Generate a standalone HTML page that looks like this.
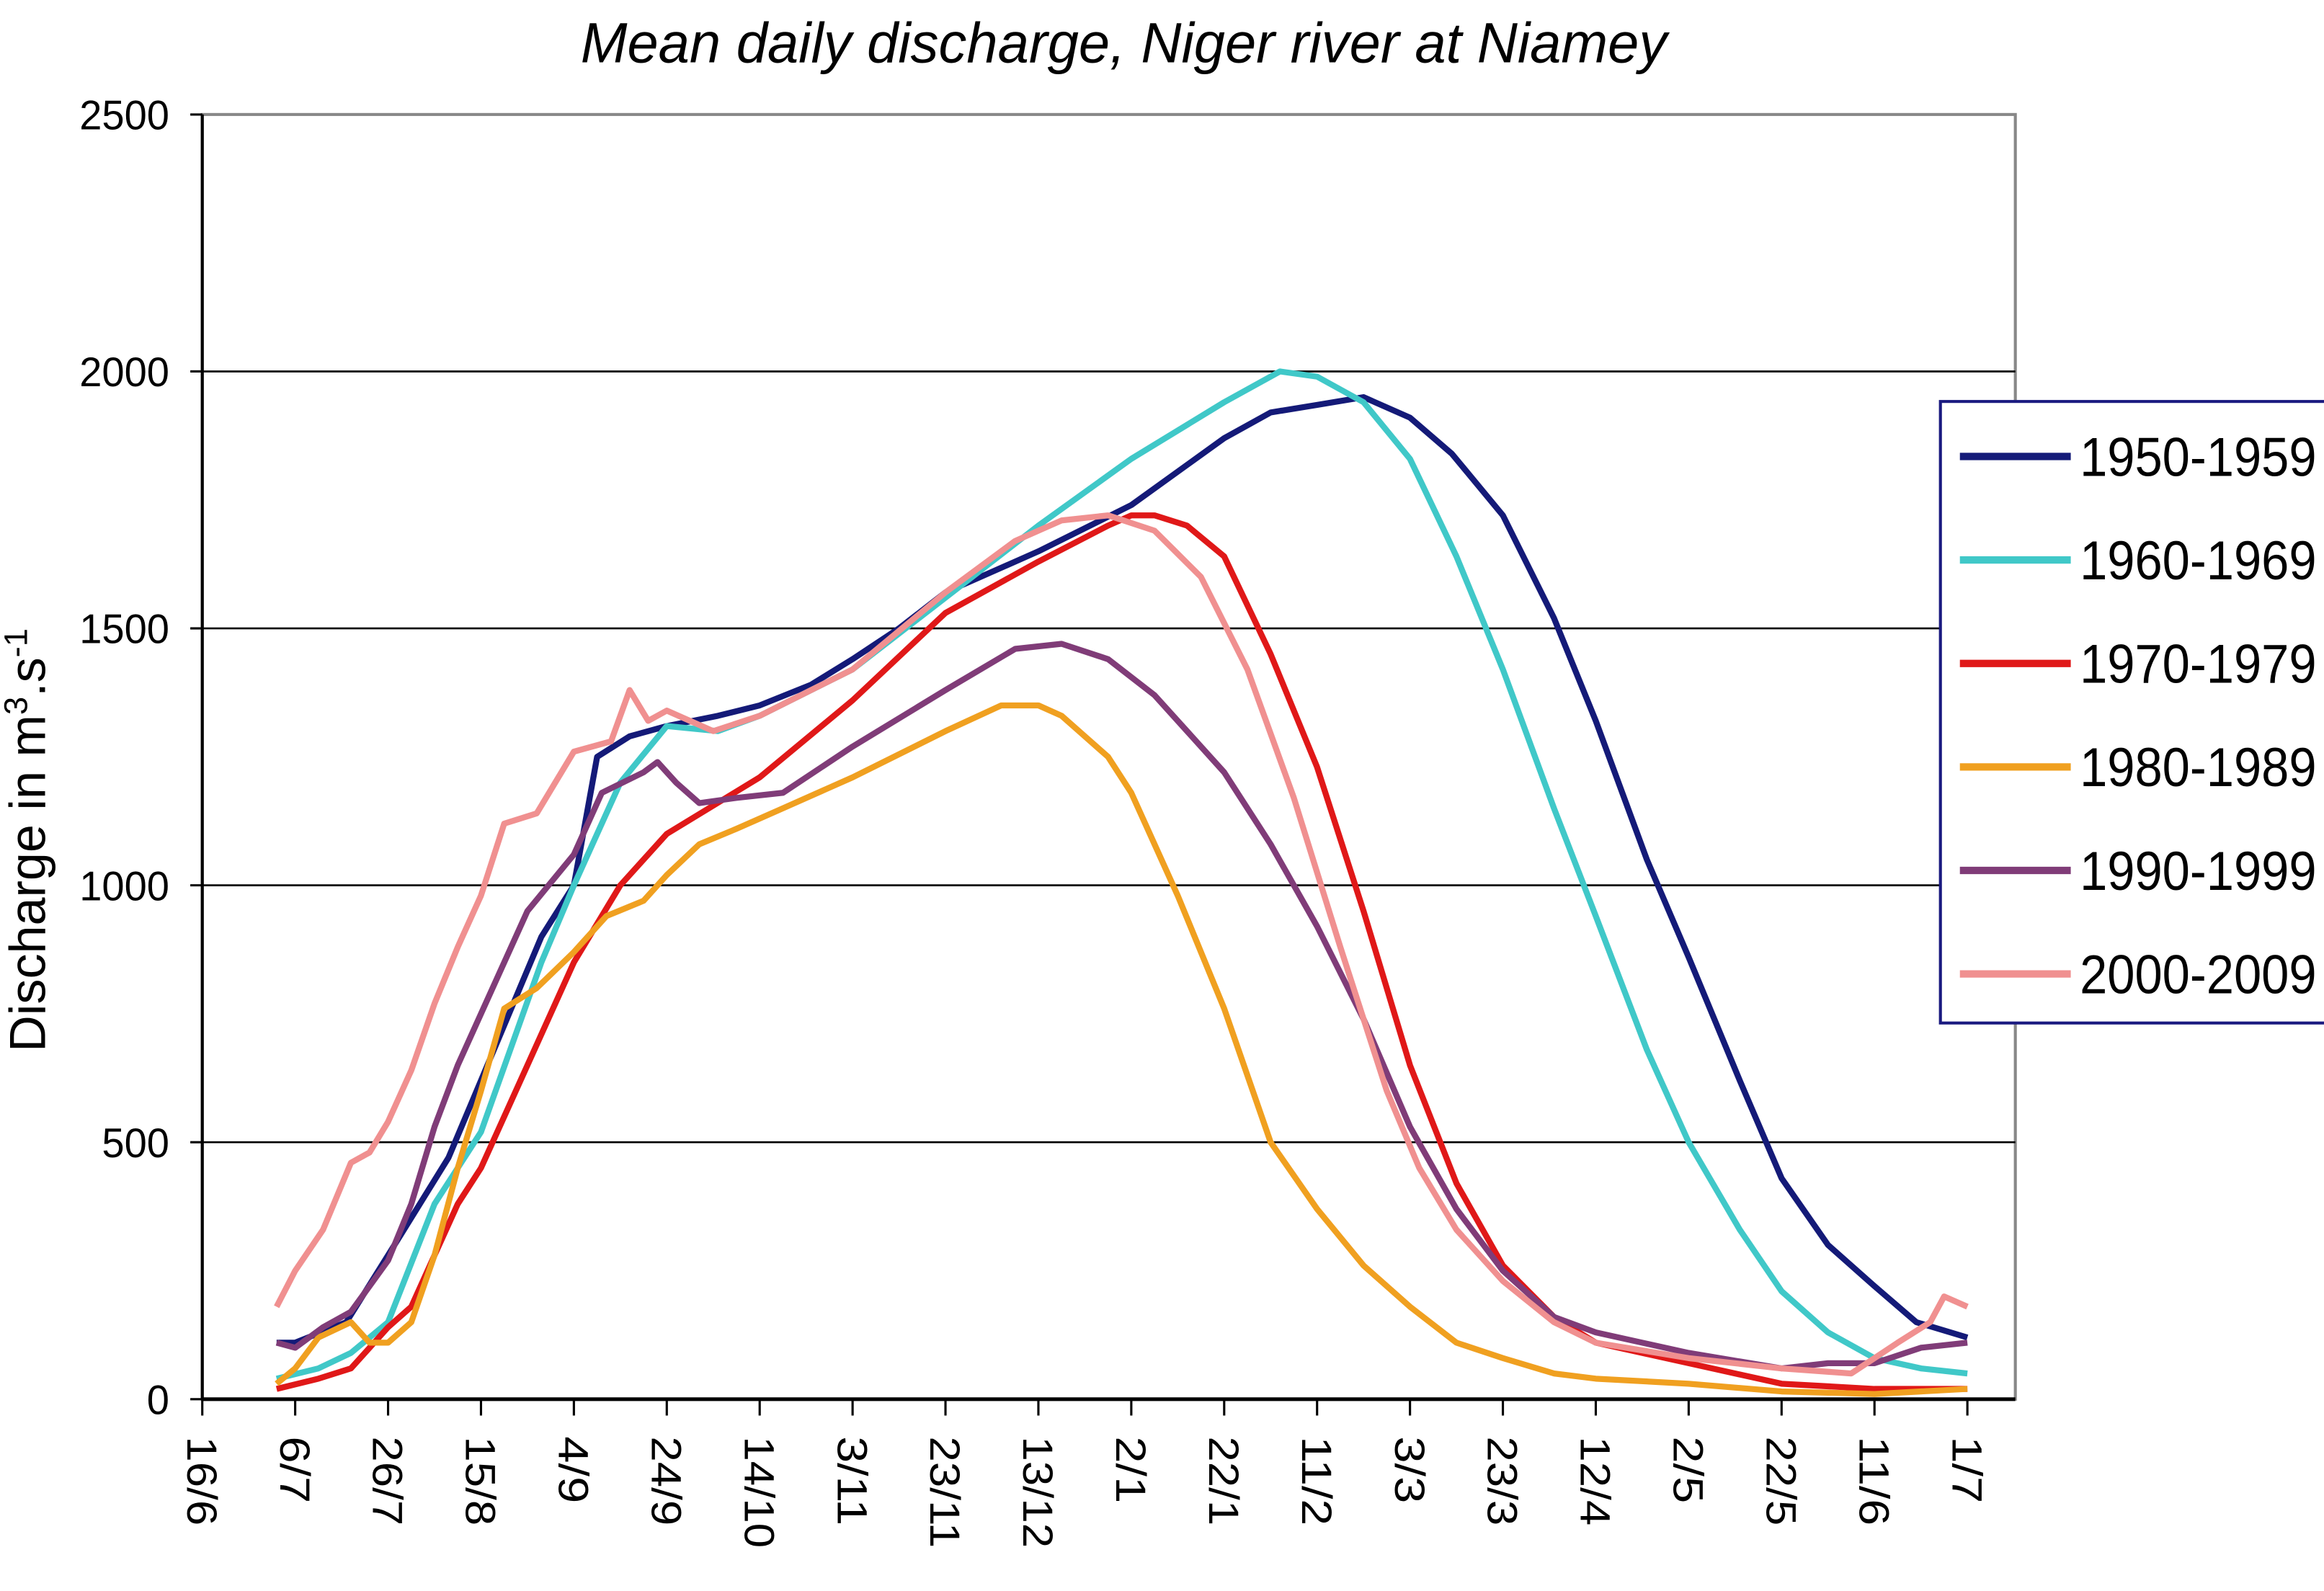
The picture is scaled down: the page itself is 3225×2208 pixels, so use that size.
<!DOCTYPE html>
<html><head><meta charset="utf-8"><style>html,body{margin:0;padding:0;background:#fff}svg{display:block}</style></head>
<body>
<svg id="chart" width="3225" height="2208" viewBox="0 0 1551 1070" preserveAspectRatio="none" xmlns="http://www.w3.org/2000/svg" font-family="'Liberation Sans', sans-serif">
<rect width="1551" height="1070" fill="#fff"/>
<text x="750" y="42" font-size="38" font-style="italic" text-anchor="middle" textLength="725" lengthAdjust="spacingAndGlyphs">Mean daily discharge, Niger river at Niamey</text>
<rect x="135" y="77" width="1210" height="864" fill="none" stroke="#888" stroke-width="2"/>
<g id="grid"></g>
<g id="yticks"></g>
<g id="xticks"></g>
<g id="series"></g>
<text transform="translate(30,565) rotate(-90)" font-size="34" text-anchor="middle">Discharge in m<tspan font-size="22" dy="-12">3</tspan><tspan dy="12">.s</tspan><tspan font-size="22" dy="-12">-1</tspan></text>
<g>
<rect x="1295" y="270" width="270" height="418" fill="#fff" stroke="#1a1a80" stroke-width="2"/>
<g id="legend-items"></g>
</g>
</svg>
<script>
const categories = ["16/6","6/7","26/7","15/8","4/9","24/9","14/10","3/11","23/11","13/12","2/1","22/1","11/2","3/3","23/3","12/4","2/5","22/5","11/6","1/7"];
const tickDays = [0,20,40,60,80,100,120,140,160,180,200,220,240,260,280,300,320,340,360,380];
const yTicks = [0,500,1000,1500,2000,2500];
const seriesNames = ["1950-1959","1960-1969","1970-1979","1980-1989","1990-1999","2000-2009"];
const seriesColors = ["#141a78","#40c8c8","#e01818","#f0a020","#803c78","#f09090"];
const s1950 = [[16,110],[20,110],[31,150],[40,280],[53,470],[60,620],[73,900],[80,1000],[85,1250],[92,1290],[100,1310],[111,1330],[120,1350],[131,1390],[140,1440],[150,1500],[160,1570],[180,1650],[200,1740],[220,1870],[230,1920],[240,1935],[250,1950],[260,1910],[269,1840],[280,1720],[291,1520],[300,1320],[311,1050],[320,860],[331,620],[340,430],[350,300],[360,220],[369,150],[380,120]];
const s1960 = [[16,40],[25,60],[32,90],[40,150],[50,380],[60,520],[73,850],[80,1000],[90,1200],[100,1310],[111,1300],[120,1330],[140,1420],[160,1560],[180,1700],[200,1830],[220,1940],[232,2000],[240,1990],[250,1940],[260,1830],[270,1640],[280,1420],[291,1150],[300,940],[311,680],[320,500],[331,330],[340,210],[350,130],[360,80],[370,60],[380,50]];
const s1970 = [[16,20],[25,40],[32,60],[40,140],[45,180],[50,280],[55,380],[60,450],[70,650],[80,850],[90,1000],[100,1100],[120,1210],[140,1360],[160,1530],[180,1630],[195,1700],[200,1720],[205,1720],[212,1700],[220,1640],[230,1450],[240,1230],[250,950],[260,650],[270,420],[280,260],[291,160],[300,110],[320,70],[340,30],[360,20],[380,20]];
const s1980 = [[16,30],[20,60],[25,120],[32,150],[36,110],[40,110],[45,150],[50,280],[55,450],[60,600],[65,760],[72,800],[80,870],[87,940],[95,970],[100,1020],[107,1080],[115,1110],[125,1150],[140,1210],[160,1300],[172,1350],[180,1350],[185,1330],[195,1250],[200,1180],[210,980],[220,760],[230,500],[240,370],[250,260],[260,180],[270,110],[280,80],[291,50],[300,40],[320,30],[340,15],[360,10],[380,20]];
const s1990 = [[16,110],[20,100],[26,140],[32,170],[36,220],[40,270],[45,380],[50,530],[55,650],[60,750],[70,950],[80,1060],[86,1180],[95,1220],[98,1240],[102,1200],[107,1160],[115,1170],[125,1180],[140,1270],[160,1380],[175,1460],[185,1470],[195,1440],[205,1370],[220,1220],[230,1080],[240,920],[250,740],[260,530],[270,370],[280,250],[291,160],[300,130],[320,90],[340,60],[350,70],[360,70],[370,100],[380,110]];
const s2000 = [[16,180],[20,250],[26,330],[32,460],[36,480],[40,540],[45,640],[50,770],[55,880],[60,980],[65,1120],[72,1140],[80,1260],[88,1280],[92,1380],[96,1320],[100,1340],[110,1300],[120,1330],[140,1420],[160,1570],[175,1670],[185,1710],[195,1720],[205,1690],[215,1600],[225,1420],[235,1170],[245,880],[255,600],[262,450],[270,330],[280,230],[291,150],[300,110],[320,80],[340,60],[355,50],[360,80],[365,110],[372,150],[375,200],[380,180]];
const allSeries = [s1950,s1960,s1970,s1980,s1990,s2000];

const NS = "http://www.w3.org/2000/svg";
const X0 = 135, X1 = 1345, Y0 = 941, Y1 = 77;
const xScale = d => X0 + d * 3.1;
const yScale = v => Y0 - v * (Y0 - Y1) / 2500;
function mk(tag, attrs, parent, txt) {
  const e = document.createElementNS(NS, tag);
  for (const k in attrs) e.setAttribute(k, attrs[k]);
  if (txt !== undefined) e.textContent = txt;
  parent.appendChild(e);
  return e;
}
const grid = document.getElementById('grid');
const yg = document.getElementById('yticks');
yTicks.forEach(v => {
  if (v > 0 && v < 2500) {
    const l = mk('line', {x1: X0, x2: X1, y1: yScale(v), y2: yScale(v), stroke: '#000', 'stroke-width': 1.3}, grid);
    
    
  }
  const t = mk('text', {x: 113, y: yScale(v) + 10, 'font-size': 28, 'text-anchor': 'end', textLength: String(v).length * 15, lengthAdjust: 'spacingAndGlyphs'}, yg, String(v));
  
  
  mk('line', {x1: 127, x2: X0, y1: yScale(v), y2: yScale(v), stroke: '#000', 'stroke-width': 1.5}, yg);
});
mk('line', {x1: X0, x2: X0, y1: Y1, y2: Y0, stroke: '#000', 'stroke-width': 2}, yg);
const xg = document.getElementById('xticks');
mk('line', {x1: X0, x2: X1, y1: Y0, y2: Y0, stroke: '#000', 'stroke-width': 2.5}, xg);
categories.forEach((c, i) => {
  const x = xScale(tickDays[i]);
  mk('line', {x1: x, x2: x, y1: Y0, y2: Y0 + 11, stroke: '#000', 'stroke-width': 1.5}, xg);
  const t = mk('text', {transform: 'translate(' + (x - 10) + ',966) rotate(90)', 'font-size': 28, textLength: c.length * 15, lengthAdjust: 'spacingAndGlyphs'}, xg, c);
  
  
});
const sg = document.getElementById('series');
allSeries.forEach((s, i) => {
  const d = s.map((p, j) => (j ? 'L' : 'M') + xScale(p[0]).toFixed(1) + ',' + yScale(p[1]).toFixed(1)).join(' ');
  const p = mk('path', {d: d, fill: 'none', stroke: seriesColors[i], 'stroke-width': 4, 'stroke-linejoin': 'round'}, sg);
  
  
});
const lg = document.getElementById('legend-items');
seriesNames.forEach((n, i) => {
  const y = 307 + i * 69.6;
  const g = mk('g', {}, lg);
  
  
  mk('line', {x1: 1308, x2: 1382, y1: y, y2: y, stroke: seriesColors[i], 'stroke-width': 5}, g);
  mk('text', {x: 1388, y: y + 13, 'font-size': 37, textLength: 158, lengthAdjust: 'spacingAndGlyphs'}, g, n);
});
</script>
</body></html>
